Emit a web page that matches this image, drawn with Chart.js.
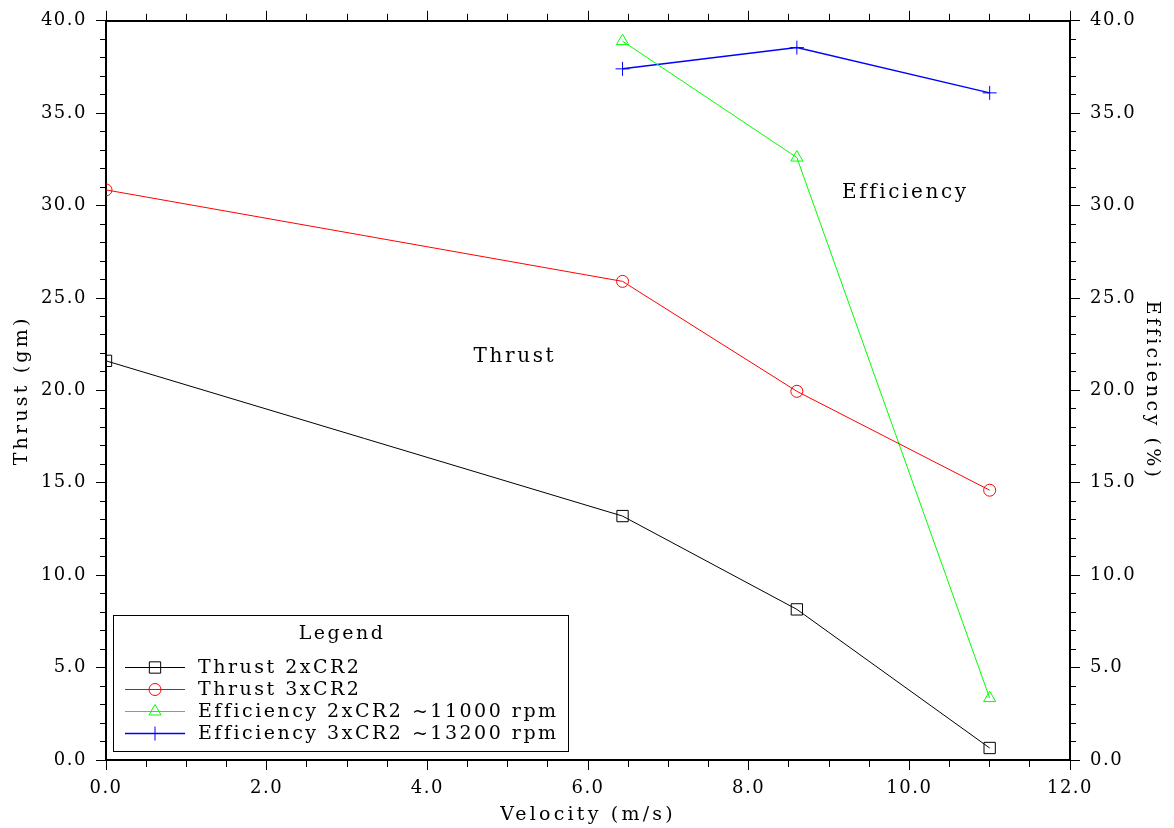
<!DOCTYPE html>
<html>
<head>
<meta charset="utf-8">
<script src="https://cdn.jsdelivr.net/npm/chart.js@4/dist/chart.umd.min.js"></script>
<style>
  html, body { margin: 0; padding: 0; background: #ffffff; }
  #wrap { width: 1174px; height: 828px; }
</style>
</head>
<body>
<div id="wrap"><canvas id="c" width="1174" height="828"></canvas></div>
<script>
// Measured velocities (m/s)
const velocityThrust = [0.0, 6.43, 8.6, 11.0];
const velocityEfficiency = [6.43, 8.6, 11.0];

// Thrust (gm) and efficiency (%)
const thrust2xCR2 = [21.6, 13.2, 8.15, 0.65];
const thrust3xCR2 = [30.85, 25.9, 19.95, 14.6];
const efficiency2xCR2 = [38.9, 32.6, 3.35];
const efficiency3xCR2 = [37.4, 38.55, 36.1];

const seriesLabels = [
  'Thrust 2xCR2',
  'Thrust 3xCR2',
  'Efficiency 2xCR2 ~11000 rpm',
  'Efficiency 3xCR2 ~13200 rpm'
];

// Axis ranges and tick spacing
const xRange = [0, 12];
const xMajorStep = 2;
const xMinorStep = 0.5;
const yRange = [0, 40];
const yMajorStep = 5;
const yMinorStep = 1;

// Text labels placed in data coordinates
const noteTexts = ['Thrust', 'Efficiency'];
const noteX = [5.09, 9.95];
const noteY = [21.8, 30.7];

const FONT = 'DejaVu Serif';
const TICK_SPACING = '1.5px';
const TITLE_SPACING = '3.2px';
const LEGEND_SPACING = '2.5px';
const NOTE_SPACING = '2.6px';

function pts(xs, ys) { return xs.map((x, i) => ({ x: x, y: ys[i] })); }
function fmt(v) { return Number(v).toFixed(1); }

function minorScale(position, step, len, range) {
  return {
    type: 'linear', position: position, weight: 0,
    min: range[0], max: range[1],
    ticks: { display: false, stepSize: step, autoSkip: false },
    grid: { drawOnChartArea: false, drawTicks: true, tickLength: len, tickColor: '#000', tickWidth: 1 },
    border: { display: false },
    afterFit: s => { if (s.isHorizontal()) s.height = 0; else s.width = 0; }
  };
}

function drawMarker(ctx, style, x, y, r, color) {
  ctx.save();
  ctx.strokeStyle = color;
  ctx.lineWidth = 1;
  ctx.beginPath();
  if (style === 'rect') {
    const s = Math.SQRT1_2 * r;
    ctx.rect(x - s, y - s, 2 * s, 2 * s);
  } else if (style === 'circle') {
    ctx.arc(x, y, r, 0, Math.PI * 2);
  } else if (style === 'triangle') {
    for (let k = 0; k < 3; k++) {
      const a = k * 2 * Math.PI / 3;
      const px = x + Math.sin(a) * r, py = y - Math.cos(a) * r;
      if (k === 0) ctx.moveTo(px, py); else ctx.lineTo(px, py);
    }
    ctx.closePath();
  } else if (style === 'cross') {
    ctx.moveTo(x - r, y); ctx.lineTo(x + r, y);
    ctx.moveTo(x, y - r); ctx.lineTo(x, y + r);
  }
  ctx.stroke();
  ctx.restore();
}

// Letter spacing: tick labels use the base value, axis titles a wider one
const spacingPlugin = {
  id: 'spacing',
  beforeUpdate(chart) { chart.ctx.letterSpacing = TICK_SPACING; },
  afterUpdate(chart) {
    Object.values(chart.scales).forEach(scale => {
      if (scale._wideTitle) return;
      const orig = scale.drawTitle;
      scale.drawTitle = function () {
        const ctx = this.ctx;
        const prev = ctx.letterSpacing;
        ctx.letterSpacing = TITLE_SPACING;
        orig.apply(this, arguments);
        ctx.letterSpacing = prev;
      };
      scale._wideTitle = true;
    });
  },
  beforeDraw(chart) { chart.ctx.letterSpacing = TICK_SPACING; }
};

// Text notes and the boxed legend inside the plot
const overlayPlugin = {
  id: 'overlay',
  afterDraw(chart) {
    const ctx = chart.ctx;
    const xs = chart.scales.x, ys = chart.scales.y;
    ctx.save();
    ctx.fillStyle = '#000';
    ctx.letterSpacing = NOTE_SPACING;
    ctx.font = '20px "' + FONT + '"';
    ctx.textAlign = 'center';
    ctx.textBaseline = 'middle';
    noteTexts.forEach((t, i) => {
      ctx.fillText(t, xs.getPixelForValue(noteX[i]), ys.getPixelForValue(noteY[i]));
    });

    // legend box
    const bx = 113, by = 615, bw = 455, bh = 136;
    ctx.strokeStyle = '#000';
    ctx.lineWidth = 1;
    ctx.strokeRect(bx + 0.5, by + 0.5, bw, bh);
    ctx.letterSpacing = LEGEND_SPACING;
    ctx.font = '19px "' + FONT + '"';
    ctx.textAlign = 'center';
    ctx.fillText('Legend', 342, 634);
    ctx.textAlign = 'left';
    const rowY = [667, 689, 711, 733];
    chart.data.datasets.forEach((ds, i) => {
      const y = rowY[i];
      ctx.strokeStyle = ds.borderColor;
      ctx.lineWidth = ds.borderWidth;
      ctx.beginPath();
      ctx.moveTo(125, y + 0.5);
      ctx.lineTo(185, y + 0.5);
      ctx.stroke();
      drawMarker(ctx, ds.pointStyle, 155, y + 0.5, ds.pointRadius, ds.borderColor);
      ctx.fillStyle = '#000';
      ctx.fillText(ds.label, 198, y + 1);
    });
    ctx.restore();
  }
};

function lineSet(label, data, color, style, radius, axis, width) {
  return {
    label: label, data: data, yAxisID: axis, xAxisID: 'x',
    borderColor: color, backgroundColor: 'rgba(0,0,0,0)', borderWidth: width,
    pointStyle: style, pointRadius: radius, pointHoverRadius: radius,
    pointBorderColor: color, pointBackgroundColor: 'rgba(0,0,0,0)', pointBorderWidth: 1,
    tension: 0, fill: false, clip: 0
  };
}

const tickFont = { family: FONT, size: 18 };
const titleFont = { family: FONT, size: 19 };

new Chart(document.getElementById('c'), {
  type: 'line',
  data: {
    datasets: [
      lineSet(seriesLabels[0], pts(velocityThrust, thrust2xCR2), '#000000', 'rect', 8, 'y', 1),
      lineSet(seriesLabels[1], pts(velocityThrust, thrust3xCR2), '#ff0000', 'circle', 6, 'y', 1),
      lineSet(seriesLabels[2], pts(velocityEfficiency, efficiency2xCR2), '#00ff00', 'triangle', 7, 'y2', 1),
      lineSet(seriesLabels[3], pts(velocityEfficiency, efficiency3xCR2), '#0000ff', 'cross', 7, 'y2', 1.5)
    ]
  },
  options: {
    responsive: false,
    devicePixelRatio: 1,
    animation: false,
    layout: { padding: 0 },
    plugins: { legend: { display: false }, tooltip: { enabled: false } },
    scales: {
      xMinor: minorScale('bottom', xMinorStep, 7, xRange),
      xTopMinor: minorScale('top', xMinorStep, 7, xRange),
      yMinor: minorScale('left', yMinorStep, 6, yRange),
      y2Minor: minorScale('right', yMinorStep, 6, yRange),
      x: {
        type: 'linear', position: 'bottom', weight: 1,
        min: xRange[0], max: xRange[1],
        ticks: { stepSize: xMajorStep, autoSkip: false, maxRotation: 0, color: '#000', font: tickFont, padding: 8, callback: fmt },
        grid: { drawOnChartArea: false, tickLength: 10, tickColor: '#000', tickWidth: 1 },
        border: { display: true, color: '#000', width: 2 },
        title: { display: true, text: 'Velocity (m/s)', color: '#000', font: titleFont, padding: { top: 0, bottom: 2 } },
        afterFit: s => { s.height = 68; }
      },
      xTop: {
        type: 'linear', position: 'top', weight: 1,
        min: xRange[0], max: xRange[1],
        ticks: { display: false, stepSize: xMajorStep, autoSkip: false },
        grid: { drawOnChartArea: false, tickLength: 10, tickColor: '#000', tickWidth: 1 },
        border: { display: true, color: '#000', width: 2 },
        afterFit: s => { s.height = 20; }
      },
      y: {
        type: 'linear', position: 'left', weight: 1,
        min: yRange[0], max: yRange[1],
        ticks: { stepSize: yMajorStep, autoSkip: false, color: '#000', font: tickFont, padding: 9, callback: fmt },
        grid: { drawOnChartArea: false, tickLength: 10, tickColor: '#000', tickWidth: 1 },
        border: { display: true, color: '#000', width: 2 },
        title: { display: true, text: 'Thrust (gm)', color: '#000', font: titleFont, padding: { top: 11, bottom: 0 } },
        afterFit: s => { s.width = 106; }
      },
      y2: {
        type: 'linear', position: 'right', weight: 1,
        min: yRange[0], max: yRange[1],
        ticks: { stepSize: yMajorStep, autoSkip: false, color: '#000', font: tickFont, padding: 10, callback: fmt },
        grid: { drawOnChartArea: false, tickLength: 10, tickColor: '#000', tickWidth: 1 },
        border: { display: true, color: '#000', width: 2 },
        title: { display: true, text: 'Efficiency (%)', color: '#000', font: titleFont, padding: { top: 11, bottom: 0 } },
        afterFit: s => { s.width = 104; }
      }
    }
  },
  plugins: [spacingPlugin, overlayPlugin]
});
</script>
</body>
</html>
